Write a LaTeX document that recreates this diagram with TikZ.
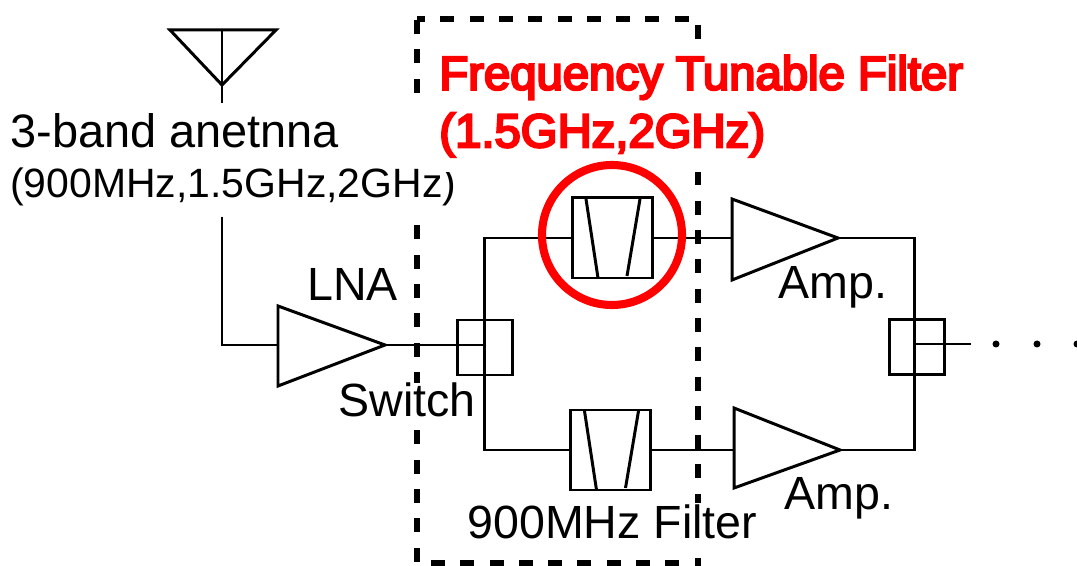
\documentclass[tikz,border=0pt]{standalone}
\usepackage{fontspec}
\setmainfont{Liberation Sans}
\newfontfamily\fatfont[FakeBold=5]{Liberation Sans}
\tikzset{
  wire/.style={line width=1.7pt},
  boxnode/.style={draw,line width=1.7pt,minimum size=#1,inner sep=0pt},
  txtbig/.style={font=\fontsize{26.5}{31}\selectfont,inner sep=0pt,anchor=base west},
}
\begin{document}
\begin{tikzpicture}[scale=1.0]
    \useasboundingbox (0,0) rectangle (21.54,11.32);
    % dashed frame
    \draw[line width=3.4pt,dash pattern=on 0.28cm off 0.306cm,dash phase=0.12cm] (8.34,10.94)--(13.96,10.94)--(13.96,0.06)--(8.34,0.06)--cycle;
    % labels
    \node[fill=white,inner xsep=0pt,inner ysep=0.2cm,anchor=north west,align=left] (ANT) at (0.2,9.26)
      {\fontsize{26.7}{31}\selectfont 3-band anetnna\\[10.5pt]\fontsize{23.3}{28}\selectfont (900MHz,1.5GHz,2GHz)};
    \node[fill=white,text=red,inner xsep=0pt,inner ysep=0.3cm,anchor=north west,align=left] (TUN) at (8.78,10.52)
      {\fontsize{26.9}{31}\fatfont Frequency Tunable Filter\\[6.7pt]\fontsize{26.9}{31}\fatfont (1.5GHz,2GHz)};
    \node[txtbig] (LNA) at (6.14,5.30) {LNA};
    \node[txtbig,fill=white] (SW) at (6.76,2.98) {Switch};
    \node[txtbig,fill=white,text height=0.72cm,text depth=0.38cm] (FLB) at (9.34,0.54) {900MHz Filter};
    \node[txtbig] (AMA) at (15.56,5.34) {Amp.};
    \node[txtbig] (AMB) at (15.68,1.12) {Amp.};
    % antenna
    \coordinate (AL) at (3.40,10.72);
    \coordinate (AR) at (5.52,10.72);
    \coordinate (AT) at (4.44,10.72);
    \coordinate (AV) at (4.44,9.62);
    \coordinate (AF) at (4.44,9.26);
    \draw[wire] (AL)--(AR)--(AV)--cycle;
    \draw[wire] (AT)--(AF);
    % amplifiers
    \coordinate (L1) at (5.56,5.20);
    \coordinate (L2) at (5.56,3.60);
    \coordinate (LO) at (7.70,4.42);
    \coordinate (LI) at (5.56,4.42);
    \coordinate (P1) at (14.64,7.34);
    \coordinate (P2) at (14.64,5.72);
    \coordinate (PO) at (16.76,6.56);
    \coordinate (PI) at (14.64,6.56);
    \coordinate (Q1) at (14.68,3.16);
    \coordinate (Q2) at (14.68,1.56);
    \coordinate (QO) at (16.80,2.32);
    \coordinate (QI) at (14.68,2.32);
    \draw[wire] (L1)--(L2)--(LO)--cycle;
    \draw[wire] (P1)--(P2)--(PO)--cycle;
    \draw[wire] (Q1)--(Q2)--(QO)--cycle;
    % switches and filters
    \node[boxnode=1.1cm] (SA) at (9.69,4.37) {};
    \node[boxnode=1.1cm] (SB) at (18.34,4.38) {};
    \node[boxnode=1.6cm] (FA) at (12.24,6.56) {};
    \node[boxnode=1.6cm] (FB) at (12.21,2.32) {};
    \foreach \f in {FA,FB}{
      \draw[wire] ([shift={(-0.52,0.78)}]\f.center)--([shift={(-0.28,-0.8)}]\f.center);
      \draw[wire] ([shift={(0.56,0.78)}]\f.center)--([shift={(0.30,-0.76)}]\f.center);
    }
    % connections
    \coordinate (SJ) at (9.68,4.42);
    \coordinate (RT) at (18.28,6.56);
    \coordinate (RM) at (18.28,4.44);
    \coordinate (RB) at (18.28,2.32);
    \coordinate (OUT) at (19.42,4.44);
    \draw[wire] (AF |- ANT.south)--(AF |- LI)--(LI);
    \draw[wire] (LO)--(SJ);
    \draw[wire] (FA.west)--(FA.west -| SJ)--(FB.west -| SJ)--(FB.west);
    \draw[wire] (FA.east)--(PI);
    \draw[wire] (FB.east)--(QI);
    \draw[wire] (PO)--(RT)--(RB)--(QO);
    \draw[wire] (RM)--(OUT);
    \foreach \x in {19.92,20.74,21.54}
      \fill (\x,4.44) circle (0.07);
    % marked filter
    \draw[red,line width=4.6pt] (12.24,6.62) circle (1.40);
\end{tikzpicture}
\end{document}
